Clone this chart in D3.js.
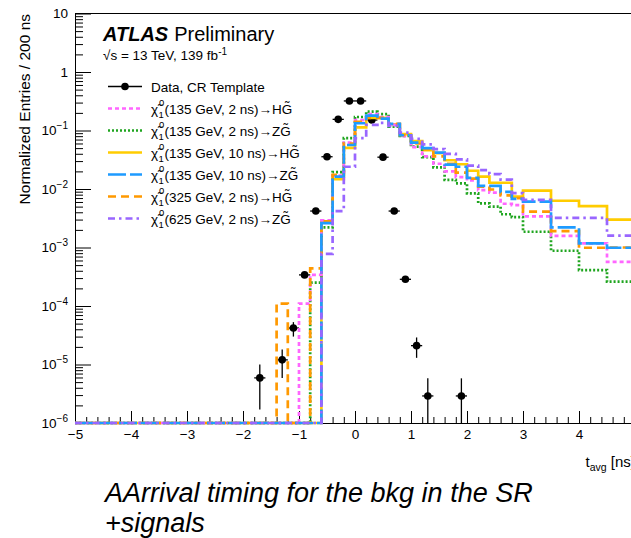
<!DOCTYPE html>
<html><head><meta charset="utf-8">
<script src="https://cdn.jsdelivr.net/npm/d3@7"></script>
<style>
html,body{margin:0;padding:0;background:#fff;overflow:hidden}
svg{display:block;font-family:"Liberation Sans",Arial,Helvetica,sans-serif}
</style></head><body>
<svg id="chart" width="631" height="538"></svg>
<script>
// ---------- data ----------
const binEdges = [-5.0, -1.4, -1.2, -1.0, -0.8, -0.6, -0.4, -0.2, 0.0, 0.2, 0.4, 0.6, 0.8, 1.0, 1.2, 1.4, 1.6, 1.8, 2.0, 2.2, 2.4, 2.6, 2.8, 3.0, 3.5, 4.0, 4.5, 5.0];

const sig135_2ns_H  = [0, 0, 0, 1.1e-4, 3.4e-4, 0.0029, 0.017, 0.062, 0.15, 0.19, 0.17, 0.125, 0.08, 0.052, 0.036, 0.027, 0.02, 0.016, 0.014, 0.0096, 0.0087, 0.0056, 0.0053, 0.0034, 0.00158, 0.00118, 0.00057];
const sig135_2ns_Z  = [0, 0, 0, 0, 2.5e-4, 0.0022, 0.0195, 0.074, 0.17, 0.21, 0.19, 0.116, 0.081, 0.053, 0.035, 0.0235, 0.0143, 0.0125, 0.0084, 0.0057, 0.005, 0.0037, 0.0033, 0.00186, 0.00088, 0.00041, 0.00026];
const sig135_10ns_H = [0, 0, 0, 0, 0, 0.0028, 0.0148, 0.0505, 0.113, 0.165, 0.165, 0.128, 0.087, 0.066, 0.046, 0.041, 0.031, 0.0265, 0.0205, 0.0163, 0.0128, 0.0128, 0.0074, 0.0094, 0.0063, 0.0051, 0.003];
const sig135_10ns_Z = [0, 0, 0, 0, 0, 0.0026, 0.0163, 0.0565, 0.133, 0.18, 0.16, 0.13, 0.083, 0.062, 0.05, 0.042, 0.026, 0.024, 0.0155, 0.0113, 0.0113, 0.0089, 0.0068, 0.0061, 0.0022, 0.00118, 0.00099];
const sig325_2ns_H  = [0, 1.1e-4, 0, 0, 4.4e-4, 0.0028, 0.0175, 0.06, 0.14, 0.165, 0.165, 0.13, 0.083, 0.06, 0.048, 0.036, 0.027, 0.019, 0.015, 0.011, 0.0098, 0.0078, 0.007, 0.0041, 0.0019, 0.00099, 0.001];
const sig625_2ns_Z  = [0, 0, 0, 0, 0, 7.8e-4, 0.0042, 0.024, 0.074, 0.125, 0.135, 0.12, 0.092, 0.072, 0.058, 0.048, 0.04, 0.032, 0.025, 0.021, 0.018, 0.0145, 0.0085, 0.0065, 0.0032, 0.0032, 0.0016];

const dataX     = [-1.7, -1.3, -1.1, -0.9, -0.7, -0.5, -0.3, -0.1, 0.1, 0.3, 0.5, 0.7, 0.9, 1.1, 1.3, 1.9];
const dataY     = [5.9e-6, 1.2e-5, 4.2e-5, 3.4e-4, 4.2e-3, 0.0356, 0.155, 0.32, 0.32, 0.151, 0.035, 0.0042, 2.86e-4, 2.1e-5, 2.9e-6, 2.9e-6];
const dataYLow  = [1.7e-6, 5.9e-6, 3.0e-5, 3.1e-4, 4.1e-3, 0.0354, 0.154, 0.319, 0.319, 0.150, 0.0348, 0.0041, 2.7e-4, 1.3e-5, 1e-6, 1e-6];
const dataYHigh = [1.0e-5, 1.8e-5, 5.3e-5, 3.7e-4, 4.3e-3, 0.0358, 0.156, 0.321, 0.321, 0.152, 0.0352, 0.0043, 3.0e-4, 2.9e-5, 5.8e-6, 5.8e-6];
const dataHalfWidth = 0.1;

const seriesMass   = ["135 GeV, 2 ns", "135 GeV, 2 ns", "135 GeV, 10 ns", "135 GeV, 10 ns", "325 GeV, 2 ns", "625 GeV, 2 ns"];
const seriesDecay  = ["H", "Z", "H", "Z", "H", "Z"];
const dataLabel    = "Data, CR Template";

const xMajorTicks = [-5, -4, -3, -2, -1, 0, 1, 2, 3, 4, 5];
const xLabelled   = [-5, -4, -3, -2, -1, 0, 1, 2, 3, 4];
const yExponents  = [-6, -5, -4, -3, -2, -1, 0, 1];

// ---------- styles ----------
const seriesValues = [sig135_2ns_H, sig135_2ns_Z, sig135_10ns_H, sig135_10ns_Z, sig325_2ns_H, sig625_2ns_Z];
const seriesStyle = [
  {color: "#ff66ff", dash: "4,3"},
  {color: "#1fa51f", dash: "2,2"},
  {color: "#ffcc00", dash: null},
  {color: "#1e9bff", dash: "18,4"},
  {color: "#ff9900", dash: "8,5"},
  {color: "#9966ff", dash: "7,4,2.5,4"}
];
const drawOrder = [2, 1, 0, 4, 3, 5];

const svg = d3.select("#chart");
const x = d3.scaleLinear().domain([-5, 5]).range([75, 635]);
const y = d3.scaleLog().domain([1e-6, 10]).range([423, 13.5]);

svg.append("defs").append("clipPath").attr("id", "clip")
  .append("rect").attr("x", 75).attr("y", 13).attr("width", 570).attr("height", 413);

// ---------- axes ----------
const minorX = d3.range(-50, 51, 2).map(v => v / 10).filter(v => Math.abs(v - Math.round(v)) > 1e-6);
svg.append("g").attr("transform", "translate(0,423)")
  .call(d3.axisBottom(x).tickValues(minorX).tickSizeInner(-6).tickSizeOuter(0).tickFormat(""))
  .call(g => g.select(".domain").remove())
  .call(g => g.selectAll("line").attr("stroke", "#000"));
const xAxisG = svg.append("g").attr("transform", "translate(0,423)")
  .call(d3.axisBottom(x).tickValues(xMajorTicks).tickSizeInner(-12).tickSizeOuter(0).tickPadding(6)
    .tickFormat(d => xLabelled.includes(d) ? (d < 0 ? "\u2212" + Math.abs(d) : String(d)) : ""));
xAxisG.selectAll("text").attr("font-size", "13.5px").attr("fill", "#000").attr("font-family", "Liberation Sans, Arial, sans-serif");
xAxisG.selectAll("line,path").attr("stroke", "#000");

const minorY = [];
yExponents.slice(0, -1).forEach(e => { for (let m = 2; m <= 9; m++) minorY.push(m * Math.pow(10, e)); });
svg.append("g").attr("transform", "translate(75,0)")
  .call(d3.axisLeft(y).tickValues(minorY).tickSizeInner(-8).tickSizeOuter(0).tickFormat(""))
  .call(g => g.select(".domain").remove())
  .call(g => g.selectAll("line").attr("stroke", "#000"));
const yAxisG = svg.append("g").attr("transform", "translate(75,0)")
  .call(d3.axisLeft(y).tickValues(yExponents.map(e => Math.pow(10, e))).tickSizeInner(-16).tickSizeOuter(0).tickPadding(7).tickFormat(""));
yAxisG.selectAll("line,path").attr("stroke", "#000");
yAxisG.selectAll(".tick text").each(function (d) {
  const t = d3.select(this).attr("font-size", "13.5px").attr("fill", "#000").attr("font-family", "Liberation Sans, Arial, sans-serif");
  const e = Math.round(Math.log10(d));
  if (e === 0) t.text("1");
  else if (e === 1) t.text("10");
  else {
    t.append("tspan").text("10");
    t.append("tspan").attr("dy", "-6").attr("font-size", "10px").text("\u2212" + (-e));
  }
});
svg.append("line").attr("x1", 75).attr("x2", 635).attr("y1", 13.5).attr("y2", 13.5).attr("stroke", "#000");

// ---------- axis titles ----------
svg.append("text").attr("transform", "translate(30,14) rotate(-90)").attr("text-anchor", "end")
  .attr("font-size", "15.5px").text("Normalized Entries / 200 ns");
const xt = svg.append("text").attr("x", 635).attr("y", 467).attr("text-anchor", "end").attr("font-size", "15px");
xt.append("tspan").text("t");
xt.append("tspan").attr("dy", 4).attr("font-size", "10.5px").text("avg");
xt.append("tspan").attr("dy", -4).text(" [ns]");

// ---------- data points ----------
const plot = svg.append("g").attr("clip-path", "url(#clip)");
const pts = plot.append("g");
dataX.forEach((dx, i) => {
  pts.append("line").attr("x1", x(dx)).attr("x2", x(dx)).attr("y1", y(dataYLow[i])).attr("y2", y(dataYHigh[i]))
    .attr("stroke", "#000").attr("stroke-width", 1.3);
  pts.append("line").attr("x1", x(dx - dataHalfWidth)).attr("x2", x(dx + dataHalfWidth)).attr("y1", y(dataY[i])).attr("y2", y(dataY[i]))
    .attr("stroke", "#000").attr("stroke-width", 1.3);
  pts.append("circle").attr("cx", x(dx)).attr("cy", y(dataY[i])).attr("r", 3.8).attr("fill", "#000");
});

// ---------- histograms ----------
const line = d3.line();
drawOrder.forEach(k => {
  const vals = seriesValues[k];
  const p = [];
  vals.forEach((v, i) => {
    const yy = v > 0 ? y(v) : y(1e-6);
    p.push([x(binEdges[i]), yy]);
    p.push([x(binEdges[i + 1]), yy]);
  });
  plot.append("path").attr("d", line(p)).attr("fill", "none")
    .attr("stroke", seriesStyle[k].color).attr("stroke-width", 2.7)
    .attr("stroke-dasharray", seriesStyle[k].dash);
});

// ---------- labels ----------
const atl = svg.append("text").attr("x", 103).attr("y", 40.5).attr("font-size", "20px");
atl.append("tspan").attr("font-weight", "bold").attr("font-style", "italic").text("ATLAS");
atl.append("tspan").attr("dx", 6).text("Preliminary");
const en = svg.append("text").attr("x", 103).attr("y", 60).attr("font-size", "13.5px");
en.append("tspan").text("\u221As = 13 TeV, 139 fb");
en.append("tspan").attr("dy", -5).attr("font-size", "10px").text("-1");

// ---------- legend ----------
const lg = svg.append("g");
const rowY = i => 86.5 + i * 22;
lg.append("line").attr("x1", 108).attr("x2", 142).attr("y1", rowY(0)).attr("y2", rowY(0)).attr("stroke", "#000").attr("stroke-width", 1.3);
lg.append("circle").attr("cx", 125).attr("cy", rowY(0)).attr("r", 3.8).attr("fill", "#000");
lg.append("text").attr("x", 151).attr("y", rowY(0) + 5).attr("font-size", "13.5px").text(dataLabel);
seriesMass.forEach((m, i) => {
  const cy = rowY(i + 1);
  lg.append("line").attr("x1", 108).attr("x2", 142).attr("y1", cy).attr("y2", cy)
    .attr("stroke", seriesStyle[i].color).attr("stroke-width", 2.7).attr("stroke-dasharray", seriesStyle[i].dash);
  lg.append("text").attr("x", 151).attr("y", cy + 5).attr("font-size", "13.5px").text("\u03C7\u0303");
  lg.append("text").attr("x", 159).attr("y", cy - 3).attr("font-size", "9.5px").text("0");
  lg.append("text").attr("x", 158.5).attr("y", cy + 9).attr("font-size", "9.5px").text("1");
  lg.append("text").attr("x", 164.5).attr("y", cy + 5).attr("font-size", "13.5px")
    .text("(" + m + ")\u2192" + seriesDecay[i] + "G\u0303");
});

// ---------- caption ----------
svg.append("text").attr("x", 105).attr("y", 502).attr("font-size", "27px").attr("font-style", "italic")
  .text("AArrival timing for the bkg in the SR");
svg.append("text").attr("x", 105).attr("y", 532).attr("font-size", "27px").attr("font-style", "italic")
  .text("+signals");
</script>
</body></html>
